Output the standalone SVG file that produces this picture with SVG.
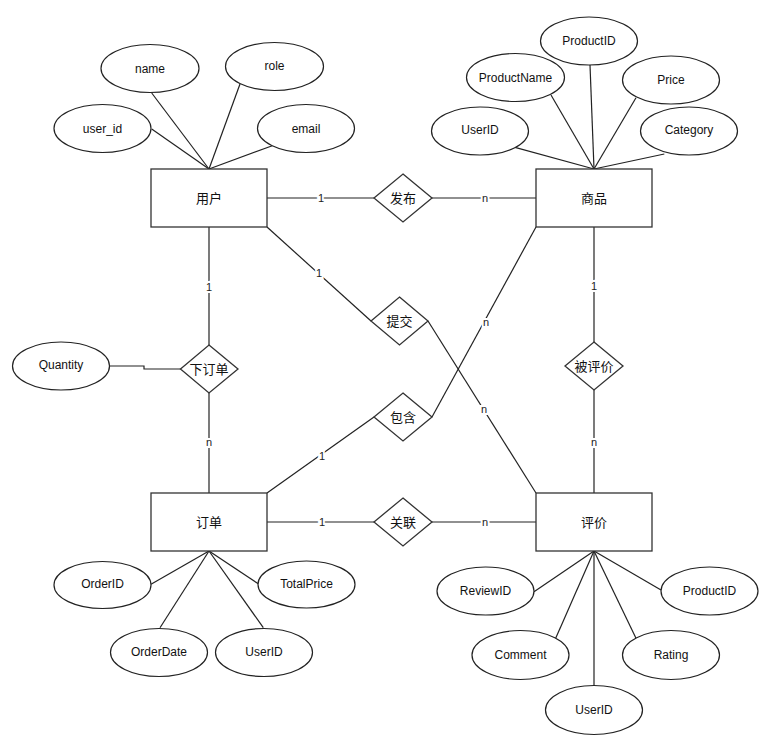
<svg xmlns="http://www.w3.org/2000/svg" width="771" height="754" viewBox="0 0 771 754">
<style>
.ent{fill:#fff;stroke:#333;stroke-width:1.3}
.rel{fill:#fff;stroke:#333;stroke-width:1.3}
.attr{fill:#fff;stroke:#222;stroke-width:1.2}
.t{font-family:"Liberation Sans","Noto Sans CJK SC",sans-serif;font-size:12px;fill:#111;text-anchor:middle;dominant-baseline:central}
.tc{font-family:"Liberation Sans","Noto Sans CJK SC",sans-serif;font-size:13px;fill:#111;text-anchor:middle;dominant-baseline:central}
.lbl{font-family:"Liberation Sans","Noto Sans CJK SC",sans-serif;font-size:11px;fill:#222;text-anchor:middle;dominant-baseline:central;stroke:#fff;stroke-width:4;paint-order:stroke}
.ln{fill:none;stroke:#222;stroke-width:1.2}
</style>
<rect width="771" height="754" fill="#fff"/>
<g id="connectors">
<path class="ln" d="M267,198 H374"/>
<path class="ln" d="M432,198 H536"/>
<path class="ln" d="M267,227 L371,321"/>
<path class="ln" d="M428,321 L536,493"/>
<path class="ln" d="M536,227 L432,417"/>
<path class="ln" d="M374,417 L267,493"/>
<path class="ln" d="M209,227 V345"/>
<path class="ln" d="M209,393 V493"/>
<path class="ln" d="M109,366 H144 V369 H181"/>
<path class="ln" d="M594,227 V342"/>
<path class="ln" d="M594,390 V493"/>
<path class="ln" d="M267,522 H374"/>
<path class="ln" d="M432,522 H536"/>
<path class="ln" d="M151.7,93 L209,169"/>
<path class="ln" d="M240,84 L209,169"/>
<path class="ln" d="M151.7,129 L209,169"/>
<path class="ln" d="M272.3,145.7 L209,169"/>
<path class="ln" d="M590,65 L594,169"/>
<path class="ln" d="M551,95 L594,169"/>
<path class="ln" d="M636,97.7 L594,169"/>
<path class="ln" d="M515,147.3 L594,169"/>
<path class="ln" d="M664.3,154 L594,169"/>
<path class="ln" d="M151,584.3 L209,551"/>
<path class="ln" d="M259,584.3 L209,551"/>
<path class="ln" d="M160,627.7 L209,551"/>
<path class="ln" d="M263.3,627.7 L209,551"/>
<path class="ln" d="M534,591.7 L594,551"/>
<path class="ln" d="M661,590 L594,551"/>
<path class="ln" d="M555.7,638.3 L594,551"/>
<path class="ln" d="M636,638.3 L594,551"/>
<path class="ln" d="M594,686 L594,551"/>
<text class="lbl" x="321" y="198">1</text>
<text class="lbl" x="485" y="198">n</text>
<text class="lbl" x="319" y="273">1</text>
<text class="lbl" x="484" y="409">n</text>
<text class="lbl" x="486" y="322">n</text>
<text class="lbl" x="322" y="456">1</text>
<text class="lbl" x="209" y="287">1</text>
<text class="lbl" x="209" y="442">n</text>
<text class="lbl" x="594" y="286">1</text>
<text class="lbl" x="594" y="442">n</text>
<text class="lbl" x="322" y="522">1</text>
<text class="lbl" x="485" y="522">n</text>
</g>
<g id="user"><rect class="ent" x="151" y="169" width="116" height="58"/><text class="tc" x="209" y="198">用户</text></g>
<g id="product"><rect class="ent" x="536" y="169" width="116" height="58"/><text class="tc" x="594" y="198">商品</text></g>
<g id="order"><rect class="ent" x="151" y="493" width="116" height="58"/><text class="tc" x="209" y="522">订单</text></g>
<g id="review"><rect class="ent" x="536" y="493" width="116" height="58"/><text class="tc" x="594" y="522">评价</text></g>
<g id="publish"><polygon class="rel" points="403,174 432,198 403,222 374,198"/><text class="tc" x="403" y="198">发布</text></g>
<g id="submit"><polygon class="rel" points="399.5,297 428,321 399.5,345 371,321"/><text class="tc" x="399.5" y="321">提交</text></g>
<g id="contain"><polygon class="rel" points="403,393 432,417 403,441 374,417"/><text class="tc" x="403" y="417">包含</text></g>
<g id="placeorder"><polygon class="rel" points="209,345 238,369 209,393 180.5,369"/><text class="tc" x="209" y="369">下订单</text></g>
<g id="reviewed"><polygon class="rel" points="594,342 623,366 594,390 565,366"/><text class="tc" x="594" y="366">被评价</text></g>
<g id="associate"><polygon class="rel" points="403,498 432,522 403,546 374,522"/><text class="tc" x="403" y="522">关联</text></g>
<g id="a-quantity"><ellipse class="attr" cx="61" cy="366" rx="48.5" ry="24"/><text class="t" x="61" y="365">Quantity</text></g>
<g id="a-name"><ellipse class="attr" cx="150" cy="68.5" rx="49" ry="24"/><text class="t" x="150" y="68.5">name</text></g>
<g id="a-role"><ellipse class="attr" cx="274.5" cy="66.5" rx="49" ry="24"/><text class="t" x="274.5" y="66">role</text></g>
<g id="a-user_id"><ellipse class="attr" cx="102.5" cy="128.5" rx="48.5" ry="24"/><text class="t" x="102.5" y="128.5">user_id</text></g>
<g id="a-email"><ellipse class="attr" cx="306" cy="128.5" rx="48.5" ry="24"/><text class="t" x="306" y="128.5">email</text></g>
<g id="a-productid"><ellipse class="attr" cx="589" cy="41" rx="48.5" ry="24"/><text class="t" x="589" y="41">ProductID</text></g>
<g id="a-productname"><ellipse class="attr" cx="515.5" cy="77.5" rx="49" ry="24"/><text class="t" x="515.5" y="77.5">ProductName</text></g>
<g id="a-price"><ellipse class="attr" cx="671" cy="80" rx="48.5" ry="24"/><text class="t" x="671" y="80">Price</text></g>
<g id="a-userid1"><ellipse class="attr" cx="480" cy="131" rx="48.5" ry="24"/><text class="t" x="480" y="130">UserID</text></g>
<g id="a-category"><ellipse class="attr" cx="689" cy="131" rx="48.5" ry="24"/><text class="t" x="689" y="130">Category</text></g>
<g id="a-orderid"><ellipse class="attr" cx="102.5" cy="585" rx="48.5" ry="23.5"/><text class="t" x="102.5" y="584">OrderID</text></g>
<g id="a-totalprice"><ellipse class="attr" cx="306.5" cy="584.5" rx="48.5" ry="23.5"/><text class="t" x="306.5" y="584">TotalPrice</text></g>
<g id="a-orderdate"><ellipse class="attr" cx="159" cy="652.5" rx="48.5" ry="24"/><text class="t" x="159" y="652">OrderDate</text></g>
<g id="a-userid2"><ellipse class="attr" cx="264" cy="652.5" rx="48.5" ry="24"/><text class="t" x="264" y="652">UserID</text></g>
<g id="a-reviewid"><ellipse class="attr" cx="485.5" cy="591" rx="48.5" ry="24"/><text class="t" x="485.5" y="591">ReviewID</text></g>
<g id="a-productid2"><ellipse class="attr" cx="709.5" cy="591" rx="48.5" ry="24"/><text class="t" x="709.5" y="591">ProductID</text></g>
<g id="a-comment"><ellipse class="attr" cx="520.5" cy="655" rx="48.5" ry="24.5"/><text class="t" x="520.5" y="655">Comment</text></g>
<g id="a-rating"><ellipse class="attr" cx="671" cy="655" rx="48.5" ry="24.5"/><text class="t" x="671" y="655">Rating</text></g>
<g id="a-userid3"><ellipse class="attr" cx="594" cy="710" rx="48.5" ry="24.5"/><text class="t" x="594" y="710">UserID</text></g>
</svg>
